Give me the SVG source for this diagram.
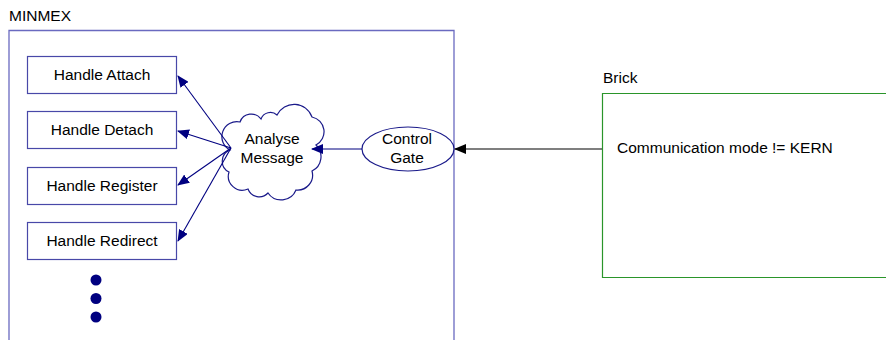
<svg xmlns="http://www.w3.org/2000/svg" width="886" height="340" viewBox="0 0 886 340">
<style>
text{font-family:"Liberation Sans",Arial,sans-serif;font-size:15.5px;fill:#000}
.c{text-anchor:middle}
.box{fill:#fff;stroke:#4848a8;stroke-width:1.2}
.nv{fill:#fff;stroke:#1a1a8a;stroke-width:1.2}
.ln{stroke:#000080;stroke-width:1.1;fill:none}
</style>
<defs>
<marker id="an" markerWidth="12" markerHeight="10" refX="11" refY="5" orient="auto" markerUnits="userSpaceOnUse"><path d="M0,0 L12,5 L0,10 Z" fill="#000080"/></marker>
<marker id="ak" markerWidth="12" markerHeight="10" refX="11" refY="5" orient="auto" markerUnits="userSpaceOnUse"><path d="M0,0 L12,5 L0,10 Z" fill="#000"/></marker>
</defs>
<g id="minmex">
<text x="9" y="21">MINMEX</text>
<path d="M9,345 V30.5 H454 V345" fill="none" stroke="#6a6ac0" stroke-width="1.3"/>
</g>
<g id="brick">
<text x="603" y="83">Brick</text>
<path d="M890,93.5 H602.5 V277.5 H890" fill="#fff" stroke="#2a952a" stroke-width="1.2"/>
<text x="617" y="153">Communication mode != KERN</text>
</g>
<g id="attach"><rect class="box" x="27.5" y="56.5" width="149" height="37"/><text class="c" x="102" y="80">Handle Attach</text></g>
<g id="detach"><rect class="box" x="27.5" y="111.5" width="149" height="37"/><text class="c" x="102" y="135">Handle Detach</text></g>
<g id="register"><rect class="box" x="27.5" y="167.5" width="149" height="37"/><text class="c" x="102" y="191">Handle Register</text></g>
<g id="redirect"><rect class="box" x="27.5" y="222.5" width="149" height="37"/><text class="c" x="102" y="246">Handle Redirect</text></g>
<g id="dots" fill="#000080"><circle cx="96" cy="280" r="5.5"/><circle cx="96" cy="298.5" r="5.5"/><circle cx="96" cy="317" r="5.5"/></g>
<g id="analyse">
<path class="nv" d="M230,150 A15,15 0 0 1 240,122 A12,12 0 0 1 261,119 A10,10 0 0 1 277,115 A19,19 0 0 1 312,117 A15,15 0 0 1 316,145 A16,16 0 0 1 312,171 A15,15 0 0 1 296,190 A16,16 0 0 1 268,193 A12,12 0 0 1 248,189 A14,14 0 0 1 229,172 A12,12 0 0 1 230,150 Z"/>
<text class="c" x="272" y="144">Analyse</text>
<text class="c" x="272" y="163">Message</text>
</g>
<g id="gate">
<ellipse class="nv" cx="408" cy="149" rx="46" ry="22"/>
<text class="c" x="407" y="144">Control</text>
<text class="c" x="407" y="163">Gate</text>
</g>
<g id="connectors">
<line class="ln" x1="362" y1="149" x2="312" y2="149" marker-end="url(#an)"/>
<line class="ln" x1="231" y1="148" x2="178" y2="76" marker-end="url(#an)"/>
<line class="ln" x1="231" y1="148" x2="178" y2="131" marker-end="url(#an)"/>
<line class="ln" x1="231" y1="148" x2="178" y2="185" marker-end="url(#an)"/>
<line class="ln" x1="231" y1="148" x2="178" y2="241" marker-end="url(#an)"/>
<line x1="602" y1="149" x2="455" y2="149" stroke="#000" stroke-width="1.1" marker-end="url(#ak)"/>
</g>
</svg>
